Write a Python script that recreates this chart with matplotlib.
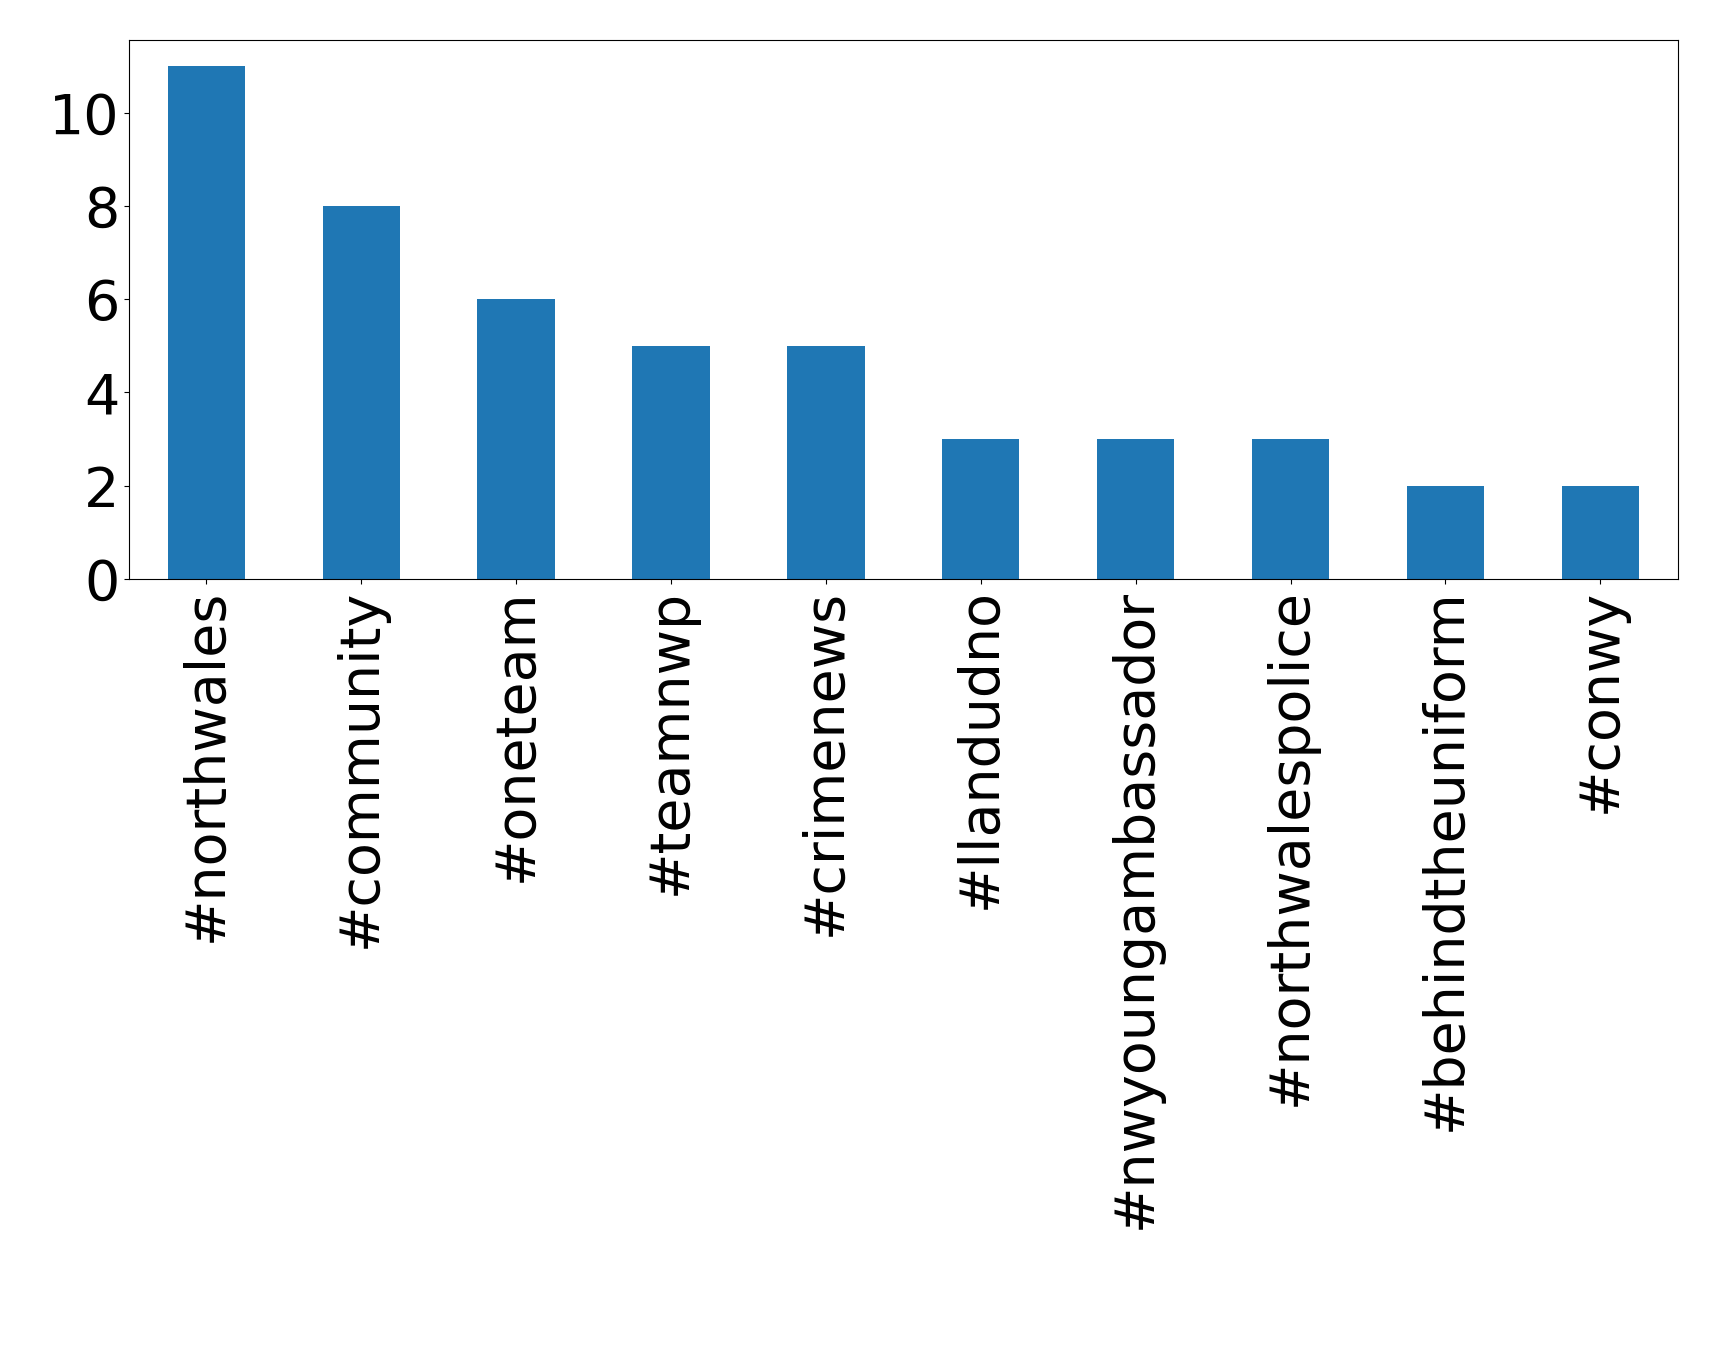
import matplotlib
matplotlib.use("Agg")
import matplotlib.pyplot as plt

categories = ["#northwales", "#community", "#oneteam", "#teamnwp", "#crimenews",
              "#llandudno", "#nwyoungambassador", "#northwalespolice",
              "#behindtheuniform", "#conwy"]
counts = [11, 8, 6, 5, 5, 3, 3, 3, 2, 2]

fig = plt.figure(figsize=(17.19, 13.49), dpi=100)
ax = fig.add_axes([0.075, 0.571, 0.901, 0.399])
x = range(len(categories))
ax.bar(x, counts, width=0.5, color="#1f77b4")
ax.set_xlim(-0.5, len(categories) - 0.5)
ax.set_ylim(0, 11.55)
ax.set_xticks(list(x))
ax.set_xticklabels(categories, rotation=90, fontsize=40)
ax.set_yticks([0, 2, 4, 6, 8, 10])
ax.tick_params(axis="y", labelsize=40)
fig.savefig("out.png", dpi=100)
